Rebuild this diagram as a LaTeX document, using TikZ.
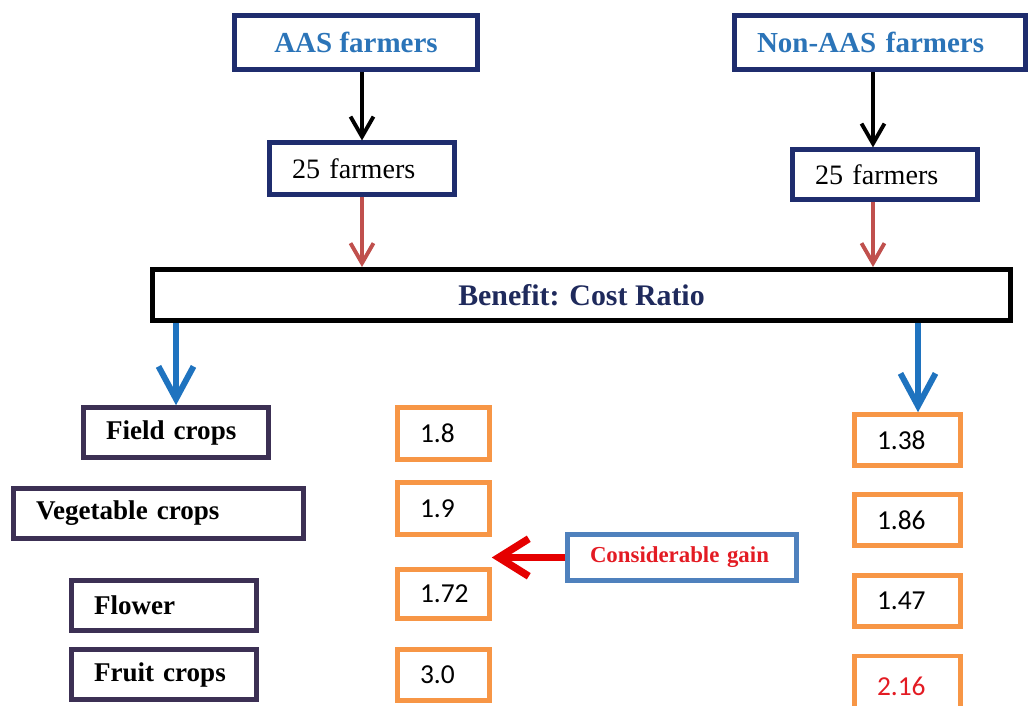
\documentclass[tikz,border=0pt]{standalone}
\usepackage{fontspec}
\setmainfont{Liberation Serif}
\newfontfamily\numfont{Carlito}
\usetikzlibrary{arrows.meta}
\definecolor{aasnavy}{HTML}{1F2D6E}
\definecolor{aasblue}{HTML}{2B74B8}
\definecolor{ratiotext}{HTML}{1F2A5C}
\definecolor{croppurple}{HTML}{3C3054}
\definecolor{valorange}{HTML}{F79646}
\definecolor{arrowred}{HTML}{C0504D}
\definecolor{arrowblue}{HTML}{1F73BF}
\definecolor{gainblue}{HTML}{4F81BD}
\definecolor{gainred}{HTML}{E31B23}

\begin{document}
\begin{tikzpicture}[line width=2.6pt, >={Straight Barb[length=4mm, width=4.6mm]},
  lbox/.style={draw, inner xsep=0.45cm, inner ysep=0pt, align=left},
  headbox/.style={lbox, draw=aasnavy, minimum height=1.08cm, text=aasblue,
    font=\bfseries\fontsize{16.5}{18}\selectfont},
  groupbox/.style={lbox, draw=aasnavy, line width=2.3pt, text width=2.8cm,
    font=\fontsize{16}{18}\selectfont},
  cropbox/.style={lbox, draw=croppurple, minimum height=1cm,
    font=\bfseries\fontsize{15.4}{17}\selectfont},
  valbox/.style={lbox, draw=valorange, font=\numfont\fontsize{15.6}{17}\selectfont}]
  \useasboundingbox (0,0) rectangle (20.6,-14.12);
  % top: the two farmer groups
  \node[headbox, align=center, inner xsep=0pt, minimum width=4.86cm] (aas) at (7.12,-0.85) {AAS farmers};
  \node[headbox, text width=4.92cm] (nonaas) at (17.6,-0.85) {Non-AAS farmers};
  \node[groupbox, minimum height=1.04cm] (grpa) at (7.24,-3.37) {25 farmers};
  \node[groupbox, minimum height=1cm] (grpb) at (17.7,-3.49) {25 farmers};
  \node[draw, line width=2.8pt, minimum width=17.16cm, minimum height=1.02cm, text=ratiotext,
    font=\bfseries\fontsize{17}{19}\selectfont] (bcr) at (11.63,-5.9) {Benefit: Cost Ratio};
  % crop categories
  \node[cropbox, text width=2.8cm] (field) at (3.52,-8.65) {Field crops};
  \node[cropbox, text width=4.9cm] (veg) at (3.17,-10.27) {Vegetable crops};
  \node[cropbox, text width=2.8cm] (flower) at (3.28,-12.11) {Flower};
  \node[cropbox, text width=2.8cm] (fruit) at (3.28,-13.49) {Fruit crops};
  % benefit:cost values, AAS and non-AAS
  \foreach \n/\y/\h/\v in {1/-8.67/1.04/1.8, 2/-10.17/1.04/1.9, 3/-11.88/0.98/1.72, 4/-13.5/1.02/3.0}
    \node[valbox, text width=0.94cm, minimum height=\h cm] (va\n) at (8.87,\y) {\v};
  \foreach \n/\y/\v in {1/-8.8/1.38, 2/-10.4/1.86, 3/-12.02/1.47}
    \node[valbox, text width=1.22cm, minimum height=1.02cm] (vb\n) at (18.15,\y) {\v};
  \node[valbox, text width=1.22cm, minimum height=1.2cm, text=gainred] (vb4) at (18.15,-13.72) {2.16};
  \node[lbox, draw=gainblue, line width=2.3pt, text width=3.68cm, minimum height=0.92cm, text=gainred,
    font=\bfseries\fontsize{13}{15}\selectfont] (gain) at (13.64,-11.15) {Considerable gain};
  % connectors
  \coordinate (kr) at (17.46,0);
  \coordinate (kb) at (18.36,0);
  \draw[->, line width=2.2pt] (grpa.north |- aas.south) -- (grpa.north);
  \draw[->, line width=2.2pt] (kr |- nonaas.south) -- (kr |- grpb.north);
  \draw[->, arrowred, line width=2.2pt] (grpa.south) -- (grpa.south |- bcr.north);
  \draw[->, arrowred, line width=2.2pt] (kr |- grpb.south) -- (kr |- bcr.north);
  \draw[-{Straight Barb[length=6.5mm, width=7mm]}, arrowblue, line width=3.4pt] (field.north |- bcr.south) -- (field.north);
  \draw[-{Straight Barb[length=6.5mm, width=7mm]}, arrowblue, line width=3.4pt] (kb |- bcr.south) -- (kb |- vb1.north);
  \draw[-{Straight Barb[length=6mm, width=7.5mm]}, red!90!black, line width=4.2pt] (gain.west) -- (gain.west -| va3.east);
\end{tikzpicture}
\end{document}
